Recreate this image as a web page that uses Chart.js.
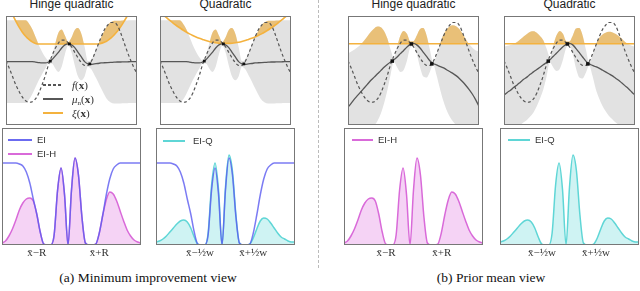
<!DOCTYPE html>
<html>
<head>
<meta charset="utf-8">
<script src="https://cdn.jsdelivr.net/npm/chart.js@4.4.0/dist/chart.umd.min.js"></script>
<style>
  body { margin: 0; background: #fff; }
  #wrap { position: relative; width: 640px; height: 291px; overflow: hidden; font-family: "Liberation Sans", Arial, sans-serif; }
  canvas { position: absolute; }
  .title { position: absolute; top: -2px; width: 139px; text-align: center; font-size: 12px; line-height: 12px; color: #222; white-space: nowrap; }
  .caption { position: absolute; top: 270px; width: 320px; text-align: center; font-family: "Liberation Serif", serif; font-size: 13.5px; color: #111; }
  .sw { position: absolute; height: 2px; }
  .lt { position: absolute; height: 14px; line-height: 14px; white-space: nowrap; color: #333; }
  .math { font-family: "Liberation Serif", serif; font-size: 11px; }
  .sans { font-size: 9.5px; }
  .sep { position: absolute; left: 318px; top: 0; height: 268px; border-left: 1px dashed #bbb; }
</style>
</head>
<body>
<div id="wrap">
  <div class="sep"></div>
  <div class="title" style="left:2px">Hinge quadratic</div>
  <div class="title" style="left:156px">Quadratic</div>
  <div class="title" style="left:344px">Hinge quadratic</div>
  <div class="title" style="left:500px">Quadratic</div>
  <div class="caption" style="left:-12px">(a) Minimum improvement view</div>
  <div class="caption" style="left:331px">(b) Prior mean view</div>
</div>
<script>
// grille commune des abscisses (0 = bord gauche du cadre, 1 = bord droit)
const xGrid = [0, 0.025, 0.05, 0.075, 0.1, 0.125, 0.15, 0.175, 0.2, 0.225,
  0.25, 0.275, 0.3, 0.325, 0.35, 0.375, 0.4, 0.425, 0.45, 0.475,
  0.5, 0.525, 0.55, 0.575, 0.6, 0.625, 0.65, 0.675, 0.7, 0.725,
  0.75, 0.775, 0.8, 0.825, 0.85, 0.875, 0.9, 0.925, 0.95, 0.975, 1];

// fonction objectif (pointillés)
const fTrue = [0.5, 0.1, -0.35, -0.8, -1.15, -1.45, -1.65, -1.73, -1.7, -1.55,
  -1.25, -0.8, -0.3, 0.3, 0.75, 1.15, 1.45, 1.6, 1.6, 1.45,
  1.25, 0.95, 0.65, 0.4, 0.25, 0.25, 0.45, 0.85, 1.3, 1.75,
  2.15, 2.4, 2.55, 2.55, 2.4, 2.0, 1.5, 1.0, 0.55, 0.15, -0.2];

// (a) vue "minimum improvement" : moyenne et bande du GP
const muMin = [0.45, 0.45, 0.45, 0.45, 0.45, 0.45, 0.45, 0.45, 0.45, 0.43,
  0.4, 0.38, 0.38, 0.43, 0.55, 0.75, 0.95, 1.18, 1.35, 1.4,
  1.35, 1.2, 0.95, 0.7, 0.45, 0.33, 0.3, 0.33, 0.35, 0.38,
  0.39, 0.4, 0.41, 0.42, 0.43, 0.43, 0.44, 0.44, 0.45, 0.45, 0.45];
const upMin = [2.67, 2.67, 2.67, 2.67, 2.67, 2.67, 2.67, 2.5, 2.2, 1.78,
  1.35, 0.98, 0.68, 0.51, 0.75, 1.4, 2.0, 2.18, 1.85, 1.5,
  1.75, 2.15, 2.25, 1.95, 1.25, 0.48, 0.55, 0.93, 1.3, 1.73,
  2.09, 2.4, 2.56, 2.64, 2.65, 2.65, 2.66, 2.66, 2.67, 2.67, 2.67];
const loMin = [-1.77, -1.77, -1.77, -1.77, -1.77, -1.77, -1.77, -1.6, -1.3, -0.92,
  -0.55, -0.22, 0.08, 0.35, 0.35, 0.1, -0.1, 0.18, 0.85, 1.3,
  0.95, 0.25, -0.35, -0.55, -0.35, 0.18, 0.05, -0.27, -0.6, -0.97,
  -1.31, -1.6, -1.74, -1.8, -1.79, -1.79, -1.78, -1.78, -1.77, -1.77, -1.77];
const xiHinge = [3.85, 3.39, 2.98, 2.62, 2.3, 2.03, 1.81, 1.64, 1.51, 1.43,
  1.4, 1.4, 1.4, 1.4, 1.4, 1.4, 1.4, 1.4, 1.4, 1.4,
  1.4, 1.4, 1.4, 1.4, 1.4, 1.4, 1.4, 1.4, 1.4, 1.43,
  1.49, 1.58, 1.71, 1.88, 2.08, 2.32, 2.6, 2.9, 3.25, 3.63, 4.05];
const xiQuad = [3.14, 2.97, 2.81, 2.66, 2.52, 2.39, 2.27, 2.15, 2.04, 1.94,
  1.85, 1.77, 1.7, 1.64, 1.58, 1.53, 1.49, 1.46, 1.44, 1.43,
  1.43, 1.43, 1.44, 1.46, 1.49, 1.53, 1.58, 1.64, 1.7, 1.77,
  1.85, 1.94, 2.04, 2.15, 2.27, 2.39, 2.52, 2.66, 2.81, 2.97, 3.14];

// (b) vue "prior mean" : moyenne a priori hinge / quadratique
const muHinge = [-2.0, -1.78, -1.55, -1.35, -1.15, -0.95, -0.75, -0.55, -0.38, -0.2,
  -0.03, 0.15, 0.3, 0.43, 0.55, 0.7, 0.88, 1.05, 1.23, 1.38,
  1.43, 1.35, 1.18, 0.95, 0.73, 0.5, 0.35, 0.28, 0.2, 0.13,
  0.03, -0.08, -0.18, -0.3, -0.45, -0.63, -0.83, -1.05, -1.3, -1.6, -1.95];
const upHinge = [0.9, 1.0, 1.1, 1.23, 1.4, 1.6, 1.83, 2.05, 2.23, 2.33,
  2.3, 2.1, 1.7, 1.1, 0.65, 1.25, 1.85, 2.1, 1.95, 1.55,
  1.55, 1.85, 2.2, 2.25, 1.85, 1.1, 0.4, 0.8, 1.35, 1.85,
  2.15, 2.33, 2.4, 2.35, 2.2, 1.95, 1.65, 1.38, 1.2, 1.05, 1.0];
const loHinge = [-4.9, -4.55, -4.2, -3.93, -3.7, -3.5, -3.33, -3.15, -2.98, -2.73,
  -2.35, -1.8, -1.1, -0.25, 0.45, 0.15, -0.1, 0, 0.5, 1.2,
  1.3, 0.85, 0.15, -0.35, -0.4, -0.1, 0.3, -0.25, -0.95, -1.6,
  -2.1, -2.48, -2.75, -2.95, -3.1, -3.2, -3.3, -3.48, -3.8, -4.25, -4.9];
const muQuad = [-1.35, -1.2, -1.08, -0.93, -0.8, -0.65, -0.5, -0.38, -0.23, -0.1,
  0.03, 0.15, 0.28, 0.4, 0.55, 0.73, 0.9, 1.08, 1.25, 1.38,
  1.43, 1.35, 1.15, 0.93, 0.7, 0.48, 0.33, 0.25, 0.18, 0.1,
  0, -0.1, -0.2, -0.3, -0.43, -0.55, -0.7, -0.85, -1.0, -1.18, -1.35];
const upQuad = [1.25, 1.3, 1.35, 1.4, 1.5, 1.65, 1.8, 1.93, 2.05, 2.08,
  2.0, 1.83, 1.6, 1.15, 0.7, 1.3, 1.85, 2.1, 1.95, 1.55,
  1.53, 1.85, 2.23, 2.25, 1.85, 1.1, 0.4, 0.8, 1.35, 1.7,
  1.9, 2.0, 2.05, 2.03, 1.95, 1.83, 1.68, 1.5, 1.38, 1.3, 1.25];
const loQuad = [-3.95, -3.7, -3.5, -3.25, -3.1, -2.95, -2.8, -2.68, -2.5, -2.28,
  -1.95, -1.53, -1.05, -0.35, 0.4, 0.15, -0.05, 0.05, 0.55, 1.2,
  1.33, 0.85, 0.08, -0.4, -0.45, -0.15, 0.25, -0.3, -1.0, -1.5,
  -1.9, -2.2, -2.45, -2.63, -2.8, -2.93, -3.08, -3.2, -3.38, -3.65, -3.95];
const xiLevel = 1.41;

// observations
const obsX = [0.338, 0.484, 0.64];
const obsY = [0.48, 1.4, 0.33];

// critères d'acquisition (panneaux du bas)
const ei = [0.82, 0.82, 0.82, 0.82, 0.82, 0.81, 0.79, 0.73, 0.62, 0.46,
  0.31, 0.13, 0.01, 0, 0, 0.1, 0.55, 0.77, 0.5, 0,
  0.55, 0.87, 0.7, 0.28, 0.02, 0, 0, 0.01, 0.12, 0.3,
  0.5, 0.66, 0.76, 0.8, 0.82, 0.82, 0.82, 0.82, 0.82, 0.82, 0.82];
const eiHinge = [0.02, 0.04, 0.09, 0.16, 0.25, 0.35, 0.42, 0.46, 0.47, 0.44,
  0.31, 0.13, 0.01, 0, 0, 0.1, 0.55, 0.77, 0.5, 0,
  0.55, 0.87, 0.7, 0.28, 0.02, 0, 0, 0.01, 0.12, 0.3,
  0.45, 0.53, 0.51, 0.44, 0.34, 0.24, 0.15, 0.09, 0.05, 0.03, 0.02];
const eiQuad = [0.03, 0.04, 0.06, 0.09, 0.13, 0.17, 0.21, 0.24, 0.25, 0.23,
  0.17, 0.08, 0.01, 0, 0, 0.12, 0.6, 0.82, 0.55, 0,
  0.58, 0.9, 0.74, 0.3, 0.02, 0, 0, 0.01, 0.07, 0.16,
  0.24, 0.27, 0.26, 0.22, 0.17, 0.12, 0.08, 0.06, 0.04, 0.03, 0.03];

// graduations du bas
const ticksA1 = [0.25, 0.70], ticksA2 = [0.317, 0.70];
const ticksB1 = [0.303, 0.703], ticksB2 = [0.302, 0.69];
const labelsR = ['x\u0304\u2212R', 'x\u0304+R'];
const labelsW = ['x\u0304\u2212\u00bdw', 'x\u0304+\u00bdw'];

const wrap = document.getElementById('wrap');
const bandGray = '#e2e2e2';
const xiColor = '#f4b23e';
const xiFill = 'rgba(238,170,50,0.6)';
const eiColor = 'rgba(90,90,240,0.8)';
const ehColor = '#d96ad9';
const ehFill = 'rgba(225,130,225,0.35)';
const eqColor = '#5fd6d6';
const eqFill = 'rgba(95,214,214,0.3)';
const muColor = '#575757';

function pts(ys) {
  return xGrid.map((x, i) => ({ x: x, y: ys[i] }));
}

function addCanvas(left, top, w, h) {
  const c = document.createElement('canvas');
  c.width = w;
  c.height = h;
  c.style.left = left + 'px';
  c.style.top = top + 'px';
  wrap.appendChild(c);
  return c;
}

// cadre gris autour de la zone de tracé
const framePlugin = {
  id: 'frame',
  afterDraw(chart) {
    const a = chart.chartArea, c = chart.ctx;
    c.save();
    c.strokeStyle = '#777';
    c.lineWidth = 1;
    c.strokeRect(a.left + 0.5, a.top + 0.5, a.right - a.left - 1, a.bottom - a.top - 1);
    c.restore();
  }
};

function topChart(left, mu, up, lo, xi, markSize) {
  const canvas = addCanvas(left, 12, 139, 117);
  return new Chart(canvas, {
    type: 'line',
    data: {
      datasets: [
        { data: pts(up), borderWidth: 0, borderColor: 'transparent', fill: '+1', backgroundColor: bandGray, order: 10 },
        { data: pts(lo), borderWidth: 0, borderColor: 'transparent', fill: false, order: 10 },
        { data: pts(up), borderWidth: 0, borderColor: 'transparent',
          fill: { target: 3, above: xiFill, below: 'rgba(0,0,0,0)' }, order: 9 },
        { data: pts(xi), borderColor: xiColor, borderWidth: 1.6, fill: false, order: 6 },
        { data: pts(fTrue), borderColor: '#555', borderWidth: 1.2, borderDash: [3, 2.5], fill: false, order: 5 },
        { data: pts(mu), borderColor: muColor, borderWidth: 1.3, fill: false, order: 4 },
        { data: obsX.map((x, i) => ({ x: x, y: obsY[i] })), showLine: false, pointStyle: 'rect',
          pointRadius: markSize, backgroundColor: '#111', borderColor: '#111', borderWidth: 0, order: 1 }
      ]
    },
    options: {
      responsive: false,
      animation: false,
      events: [],
      layout: { padding: 0 },
      elements: { point: { radius: 0 }, line: { cubicInterpolationMode: 'monotone' } },
      plugins: { legend: { display: false }, tooltip: { enabled: false } },
      scales: {
        x: { type: 'linear', min: 0, max: 1, display: false },
        y: { min: -2.95, max: 2.9, display: false }
      }
    },
    plugins: [framePlugin]
  });
}

function bottomChart(left, sets, tickVals, tickText) {
  const canvas = addCanvas(left, 128, 139, 139);
  return new Chart(canvas, {
    type: 'line',
    data: { datasets: sets },
    options: {
      responsive: false,
      animation: false,
      events: [],
      layout: { padding: 0 },
      elements: { point: { radius: 0 }, line: { cubicInterpolationMode: 'monotone' } },
      plugins: { legend: { display: false }, tooltip: { enabled: false } },
      scales: {
        x: {
          type: 'linear', min: 0, max: 1,
          afterBuildTicks: ax => { ax.ticks = tickVals.map(v => ({ value: v })); },
          afterFit: ax => { ax.height = 22; },
          grid: { display: false, drawTicks: false },
          border: { display: false },
          ticks: {
            autoSkip: false, maxRotation: 0, padding: 2, color: '#333',
            font: { family: 'Liberation Serif', size: 11 },
            callback: (v, i) => tickText[i]
          }
        },
        y: { min: 0, max: 1.17, display: false }
      }
    },
    plugins: [framePlugin]
  });
}

function eiLine() {
  return { data: pts(ei), borderColor: eiColor, borderWidth: 1.5, fill: false, order: 1 };
}
function ehArea() {
  return { data: pts(eiHinge), borderColor: ehColor, borderWidth: 1.5, fill: 'origin', backgroundColor: ehFill, order: 2 };
}
function eqArea() {
  return { data: pts(eiQuad), borderColor: eqColor, borderWidth: 1.5, fill: 'origin', backgroundColor: eqFill, order: 2 };
}

const xiFlat = xGrid.map(() => xiLevel);

topChart(2, muMin, upMin, loMin, xiHinge, 2);
topChart(156, muMin, upMin, loMin, xiQuad, 2);
topChart(344, muHinge, upHinge, loHinge, xiFlat, 2.5);
topChart(500, muQuad, upQuad, loQuad, xiFlat, 2.5);

bottomChart(2, [eiLine(), ehArea()], ticksA1, labelsR);
bottomChart(156, [eiLine(), eqArea()], ticksA2, labelsW);
bottomChart(344, [ehArea()], ticksB1, labelsR);
bottomChart(500, [eqArea()], ticksB2, labelsW);

// légendes
function legendRow(x1, x2, y, color, dashed, textX, html, cls) {
  const sw = document.createElement('div');
  sw.className = 'sw';
  sw.style.left = x1 + 'px';
  sw.style.top = (y - 1) + 'px';
  sw.style.width = (x2 - x1) + 'px';
  sw.style.background = dashed
    ? 'repeating-linear-gradient(90deg, ' + color + ' 0 3px, transparent 3px 5px)'
    : color;
  wrap.appendChild(sw);
  const t = document.createElement('div');
  t.className = 'lt ' + cls;
  t.style.left = textX + 'px';
  t.style.top = (y - 7) + 'px';
  t.innerHTML = html;
  wrap.appendChild(t);
}

legendRow(43, 63, 85, '#555', true, 72, '<i>f</i>(<b>x</b>)', 'math');
legendRow(43, 63, 99, muColor, false, 72, '<i>\u03bc</i><span style="font-size:7px;position:relative;top:2px">n</span>(<b>x</b>)', 'math');
legendRow(43, 63, 113, xiColor, false, 72, '<i>\u03be</i>(<b>x</b>)', 'math');

legendRow(8, 32, 140, '#6b6bf0', false, 37, 'EI', 'sans');
legendRow(8, 32, 154, ehColor, false, 37, 'EI-H', 'sans');
legendRow(163, 185, 141, eqColor, false, 193, 'EI-Q', 'sans');
legendRow(352, 373, 140, ehColor, false, 378, 'EI-H', 'sans');
legendRow(508, 530, 140, eqColor, false, 535, 'EI-Q', 'sans');
</script>
</body>
</html>
